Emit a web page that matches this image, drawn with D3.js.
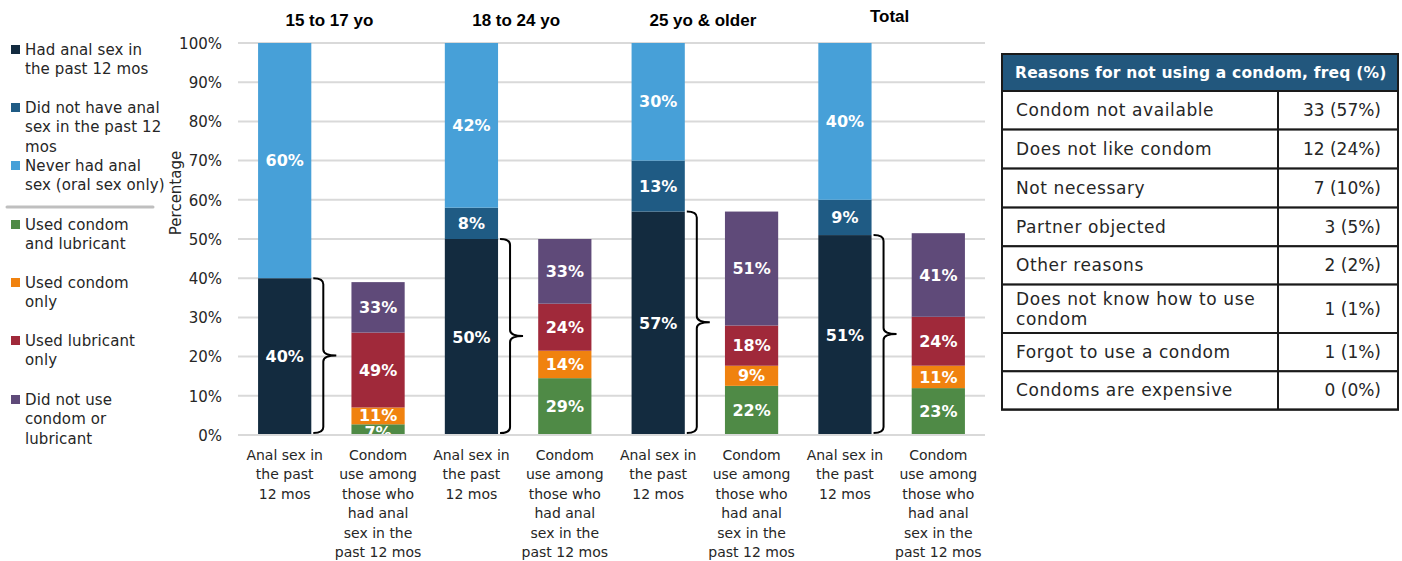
<!DOCTYPE html>
<html><head><meta charset="utf-8">
<script src="https://cdn.jsdelivr.net/npm/d3@7"></script>
<style>
body{margin:0;background:#fff;}
svg{display:block;}
</style></head>
<body><svg id="c" width="1402" height="561"></svg>
<script>
// ---------- data ----------
const groups = ["15 to 17 yo","18 to 24 yo","25 yo & older","Total"];
const hadAnal = [40,50,57,51];
const didNotHave = [0,8,13,9];
const neverHad = [60,42,30,40];
// height (in % of all) of the condom-use bar = share who had anal sex
const condomBase = [39,50,57,52];
const usedBoth = [7,29,22,23];
const condomOnly = [11,14,9,11];
const lubOnly = [49,24,18,24];
const noneUsed = [33,33,51,41];
const yTicks = [0,10,20,30,40,50,60,70,80,90,100];
const catLabel1 = ["Anal sex in","the past","12 mos"];
const catLabel2 = ["Condom","use among","those who","had anal","sex in the","past 12 mos"];
const legend1 = [["Had anal sex in","the past 12 mos"],["Did not have anal","sex in the past 12","mos"],["Never had anal","sex (oral sex only)"]];
const legend2 = [["Used condom","and lubricant"],["Used condom","only"],["Used lubricant","only"],["Did not use","condom or","lubricant"]];
const tableTitle = "Reasons for not using a condom, freq (%)";
const reasons = [["Condom not available"],["Does not like condom"],["Not necessary"],["Partner objected"],["Other reasons"],["Does not know how to use","condom"],["Forgot to use a condom"],["Condoms are expensive"]];
const freqs = ["33 (57%)","12 (24%)","7 (10%)","3 (5%)","2 (2%)","1 (1%)","1 (1%)","0 (0%)"];

const col1 = ["#132b3f","#1f5b84","#47a0d8"];
const col2 = ["#4f8a46","#f0820f","#a0293a","#5f4a79"];
const FONT = "'DejaVu Sans', sans-serif";

const svg = d3.select("#c");
const y = d3.scaleLinear().domain([0,100]).range([435,43]);
const cats = [];
groups.forEach((g,i)=>{cats.push(g+"|a"); cats.push(g+"|b");});
const x = d3.scaleBand().domain(cats).range([238,985]).paddingInner(0.43).paddingOuter(0.215);

// gridlines
svg.append("g").selectAll("line").data(yTicks).join("line")
  .attr("x1",238).attr("x2",985).attr("y1",d=>y(d)).attr("y2",d=>y(d))
  .attr("stroke","#d9d9d9").attr("stroke-width",2);

// y axis labels
const yAxis = d3.axisLeft(y).tickValues(yTicks).tickFormat(d=>d+"%").tickSize(0).tickPadding(0);
const ya = svg.append("g").attr("transform","translate(222,0)").call(yAxis);
ya.select(".domain").remove();
ya.selectAll("text").attr("font-family",FONT).attr("font-size",15).attr("fill","#262626").attr("dy","0.35em");

svg.append("text").attr("transform","translate(181,193) rotate(-90)").attr("text-anchor","middle")
  .attr("font-family",FONT).attr("font-size",15).attr("fill","#262626").text("Percentage");

function valLabel(cx, cy, v){
  svg.append("text").attr("x",cx).attr("y",cy)
    .attr("dy","0.35em").attr("text-anchor","middle").attr("font-family",FONT)
    .attr("font-size",16).attr("font-weight","bold").attr("fill","#fff").text(v+"%");
}

// bars
groups.forEach((g,i)=>{
  const cxA = x(g+"|a")+x.bandwidth()/2, cxB = x(g+"|b")+x.bandwidth()/2;
  // first bar
  const vals1 = [hadAnal[i], didNotHave[i], neverHad[i]];
  let acc = 0;
  vals1.forEach((v,k)=>{
    const y0 = acc, y1 = acc+v; acc = y1;
    if(v<=0) return;
    svg.append("rect").attr("x",x(g+"|a")).attr("width",x.bandwidth())
      .attr("y",y(y1)).attr("height",y(y0)-y(y1)).attr("fill",col1[k]);
  });
  acc = 0;
  vals1.forEach((v,k)=>{
    const y0 = acc, y1 = acc+v; acc = y1;
    if(v>0) valLabel(cxA,(y(y0)+y(y1))/2,v);
  });
  // second bar
  const vals2 = [usedBoth[i], condomOnly[i], lubOnly[i], noneUsed[i]];
  acc = 0;
  const segs = vals2.map((v,k)=>{
    const h = v*condomBase[i]/100;
    const y0 = acc, y1 = acc+h; acc = y1;
    svg.append("rect").attr("x",x(g+"|b")).attr("width",x.bandwidth())
      .attr("y",y(y1)).attr("height",y(y0)-y(y1)).attr("fill",col2[k]);
    return [y(y0),y(y1),v];
  });
  segs.forEach(([a,b,v],k)=>{
    let cy = (a+b)/2;
    // nudge tightly stacked small labels apart
    if(a-b<12){ cy += (k===0? 3 : -2); }
    valLabel(cxB,cy,v);
  });
  // brace
  const x0 = x(g+"|a")+x.bandwidth()+2, x1 = x0+10, x2 = x0+23;
  const top = y(hadAnal[i]), bot = y(0)-2, mid = (top+bot)/2, r = 6;
  svg.append("path").attr("d",
    `M${x0},${top} Q${x1},${top} ${x1},${top+r} L${x1},${mid-r} Q${x1},${mid} ${x2},${mid} Q${x1},${mid} ${x1},${mid+r} L${x1},${bot-r} Q${x1},${bot} ${x0},${bot}`)
    .attr("fill","none").attr("stroke","#000").attr("stroke-width",2);
  // group title
  const gc = (x(g+"|a")+x(g+"|b")+x.bandwidth())/2;
  svg.append("text").attr("x",gc-2).attr("y",i===3?22:26).attr("text-anchor","middle")
    .attr("font-family","'Liberation Sans Narrow','Liberation Sans',Arial,sans-serif").attr("font-size",17)
    .attr("font-weight","bold").attr("fill","#000").text(g);
  // category labels
  [[catLabel1,"|a"],[catLabel2,"|b"]].forEach(([lines,s])=>{
    const t = svg.append("text").attr("text-anchor","middle").attr("font-family",FONT)
      .attr("font-size",14).attr("fill","#262626");
    lines.forEach((ln,j)=>{
      t.append("tspan").attr("x",x(g+s)+x.bandwidth()/2).attr("y",460+j*19.4).text(ln);
    });
  });
});
// baseline
svg.append("line").attr("x1",238).attr("x2",985).attr("y1",y(0)).attr("y2",y(0)).attr("stroke","#d9d9d9").attr("stroke-width",2);

// legend
const legY1 = [50,108,166];
const legY2 = [225,283,341,400];
function legItem(lines, yy, color){
  svg.append("rect").attr("x",11).attr("y",yy-5).attr("width",9).attr("height",9).attr("fill",color);
  const t = svg.append("text").attr("font-family",FONT).attr("font-size",15).attr("letter-spacing",0.1).attr("fill","#262626");
  lines.forEach((ln,j)=>t.append("tspan").attr("x",25).attr("y",yy+5+j*19.4).text(ln));
}
legend1.forEach((l,i)=>legItem(l,legY1[i],col1[i]));
svg.append("line").attr("x1",7).attr("x2",153).attr("y1",207).attr("y2",207).attr("stroke","#bfbfbf").attr("stroke-width",3).attr("stroke-linecap","round");
legend2.forEach((l,i)=>legItem(l,legY2[i],col2[i]));

// table
const tx0 = 1002, tx1 = 1398, tdiv = 1278;
const rowH = [38.6,39,39,38.7,38.3,48.4,38.3,38.3];
const tb = svg.append("g");
tb.append("rect").attr("x",tx0).attr("y",54).attr("width",tx1-tx0).attr("height",37).attr("fill","#22577d");
tb.append("text").attr("x",1015).attr("y",78).attr("font-family",FONT).attr("font-size",15.5)
  .attr("letter-spacing",0.2).attr("font-weight","bold").attr("fill","#fff").text(tableTitle);
let ry = 91;
reasons.forEach((r,i)=>{
  const h = rowH[i];
  tb.append("rect").attr("x",tx0).attr("y",ry).attr("width",tx1-tx0).attr("height",h)
    .attr("fill","#fff").attr("stroke","#1a1a1a").attr("stroke-width",2);
  const t = tb.append("text").attr("font-family",FONT).attr("font-size",17).attr("letter-spacing",0.6).attr("fill","#262626");
  if(r.length===1){
    t.append("tspan").attr("x",1016).attr("y",ry+h/2).attr("dy","0.35em").text(r[0]);
  } else {
    r.forEach((ln,j)=>t.append("tspan").attr("x",1016).attr("y",ry+h/2+(j-0.5)*19.5).attr("dy","0.35em").text(ln));
  }
  tb.append("text").attr("x",1381).attr("y",ry+h/2).attr("dy","0.35em").attr("text-anchor","end")
    .attr("font-family",FONT).attr("font-size",17).attr("fill","#262626").text(freqs[i]);
  ry += h;
});
tb.append("line").attr("x1",tdiv).attr("x2",tdiv).attr("y1",91).attr("y2",ry).attr("stroke","#1a1a1a").attr("stroke-width",2);
tb.append("rect").attr("x",tx0).attr("y",54).attr("width",tx1-tx0).attr("height",ry-54)
  .attr("fill","none").attr("stroke","#1a1a1a").attr("stroke-width",2);
</script>
</body></html>
